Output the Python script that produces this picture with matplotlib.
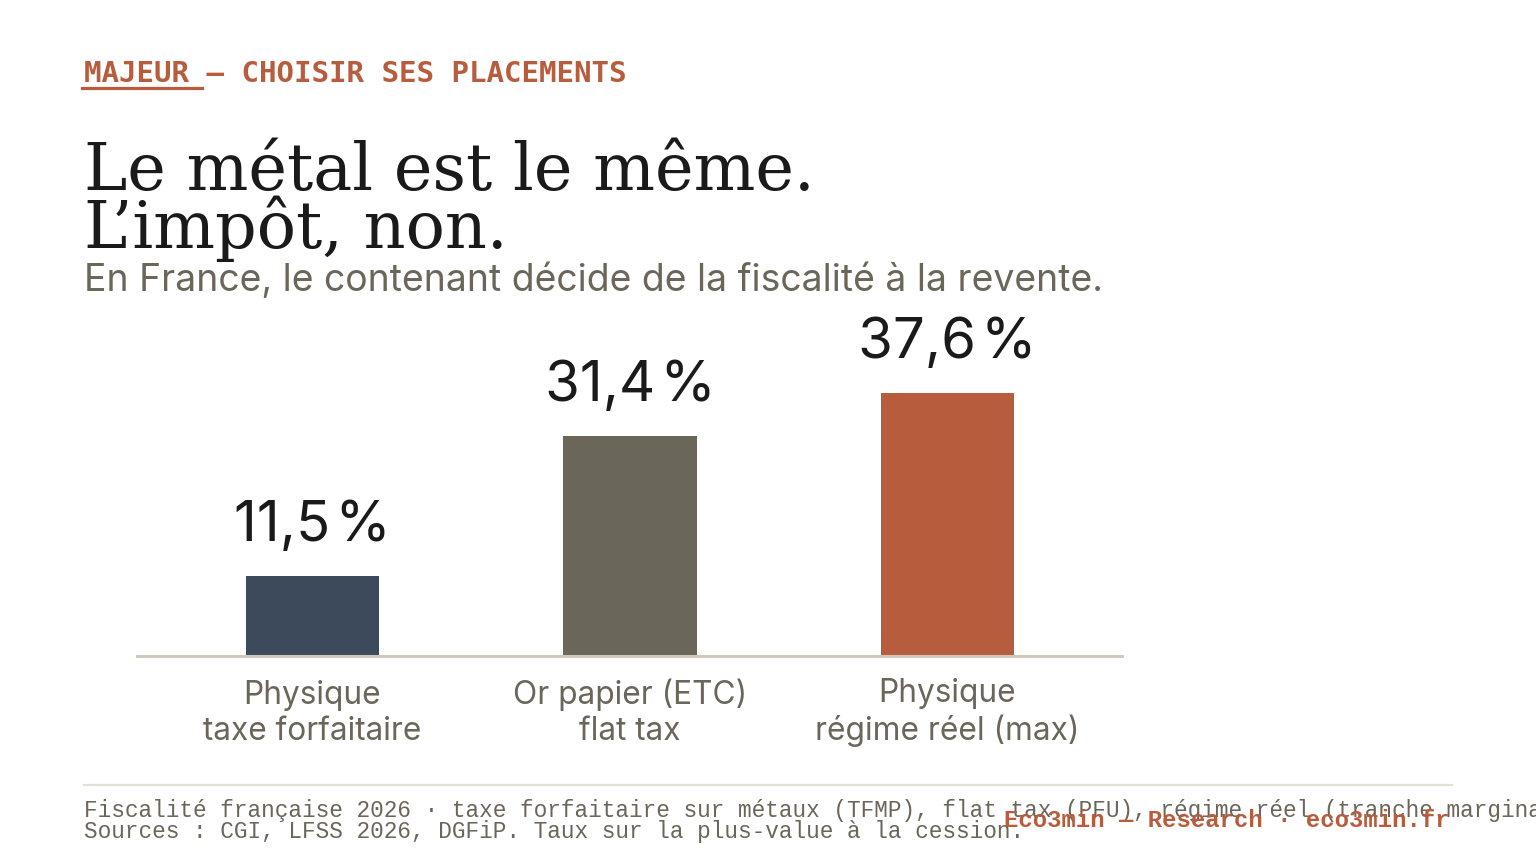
import matplotlib
matplotlib.use("Agg")
import matplotlib.pyplot as plt
from matplotlib.lines import Line2D

# data
categories = ["Physique\ntaxe forfaitaire", "Or papier (ETC)\nflat tax", "Physique\nrégime réel (max)"]
rates = [11.5, 31.4, 37.6]
rate_labels = ["11,5\u200a%", "31,4\u200a%", "37,6\u200a%"]
bar_colors = ["#3d4a5c", "#6b665a", "#b85c3e"]

kicker = "MAJEUR — CHOISIR SES PLACEMENTS"
title_lines = ["Le métal est le même.", "L’impôt, non."]
subtitle = "En France, le contenant décide de la fiscalité à la revente."
note_lines = [
    "Fiscalité française 2026 · taxe forfaitaire sur métaux (TFMP), flat tax (PFU), régime réel (tranche marginale + prélèvements sociaux)",
    "Sources : CGI, LFSS 2026, DGFiP. Taux sur la plus-value à la cession.",
]
brand = "Eco3min — Research · eco3min.fr"

ACCENT = "#b85c3e"
INK = "#1a1a1a"
MUTED = "#6b665a"
W, H = 1536, 864


def fy(px):
    # pixel from top -> figure fraction
    return 1 - px / H


def fx(px):
    return px / W


fig = plt.figure(figsize=(15.36, 8.64), dpi=100)
fig.patch.set_facecolor("white")

# chart area
ax = fig.add_axes([fx(137), fy(656), fx(1122 - 137), 280 / H])
ax.bar(range(len(rates)), rates, width=0.42, color=bar_colors, zorder=2)
ax.set_xlim(-0.553, 2.55)
ax.set_ylim(0, 40)
for s in ["top", "right", "left"]:
    ax.spines[s].set_visible(False)
ax.spines["bottom"].set_color("#d0c9ba")
ax.spines["bottom"].set_linewidth(2.2)
ax.set_yticks([])
ax.set_xticks([])

for i, (v, lab) in enumerate(zip(rates, rate_labels)):
    ax.annotate(lab, xy=(i, v), xytext=(0, 25), textcoords="offset points",
                ha="center", va="baseline", fontsize=40.5, color=INK,
                family=["Inter", "DejaVu Sans"])

# category names under the baseline (va=baseline sits on the last line)
for i, cat in enumerate(categories):
    ax.annotate(cat, xy=(i, 0), xycoords=("data", "axes fraction"),
                xytext=(0, -60.5), textcoords="offset points",
                ha="center", va="baseline", fontsize=22.8, color=MUTED,
                family="Inter", linespacing=1.2, multialignment="center")

# header
fig.text(fx(84), fy(82), kicker, fontsize=21, fontweight="bold", color=ACCENT,
         family="DejaVu Sans Mono", va="baseline")
fig.add_artist(Line2D([fx(82), fx(202)], [fy(88), fy(88)], color=ACCENT, lw=2.3))

fig.text(fx(84), fy(190), title_lines[0], fontsize=47, color=INK,
         family="DejaVu Serif", va="baseline")
fig.text(fx(84), fy(248), title_lines[1], fontsize=47, color=INK,
         family="DejaVu Serif", va="baseline")
fig.text(fx(84), fy(291), subtitle, fontsize=26.9, color=MUTED,
         family="Inter", va="baseline")

# footer
fig.add_artist(Line2D([fx(84), fx(1452)], [fy(785), fy(785)], color="#e5e0d8", lw=1.6))
fig.text(fx(84), fy(817), note_lines[0], fontsize=16.4, color=MUTED,
         family="Liberation Mono", va="baseline")
fig.text(fx(84), fy(838), note_lines[1], fontsize=16.4, color=MUTED,
         family="Liberation Mono", va="baseline")
fig.text(fx(1450), fy(827), brand, fontsize=17.2, fontweight="bold", color=ACCENT,
         family="Liberation Mono", va="baseline", ha="right")

fig.savefig("out.png", dpi=100, facecolor="white")
